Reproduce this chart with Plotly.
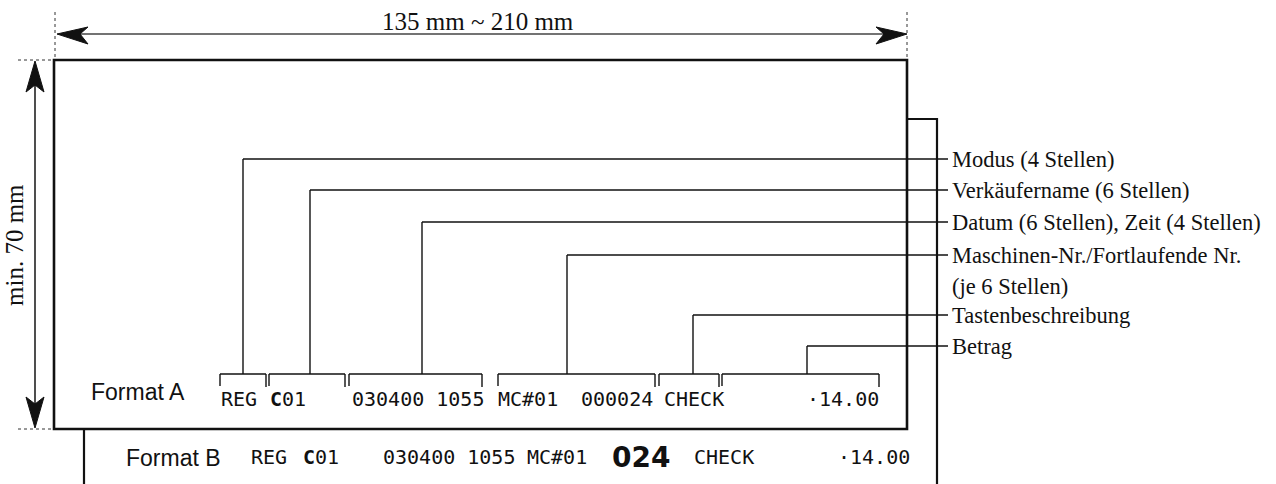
import plotly.graph_objects as go

W, H = 1276, 484

# Field descriptions on the right, with the y of their leader line
FIELD_LABELS = ["Modus (4 Stellen)", "Verkäufername (6 Stellen)",
                "Datum (6 Stellen), Zeit (4 Stellen)", "Maschinen-Nr./Fortlaufende Nr.",
                "Tastenbeschreibung", "Betrag"]
LABEL_Y = [159, 190, 222, 255, 315, 346]
LEADER_X = [243, 310, 422, 567, 693, 807]
EXTRA_LABEL = "(je 6 Stellen)"
EXTRA_Y = 286

# Brackets over the Format A receipt line
BRACKET_LEFT = [220, 269, 349, 498, 659, 722]
BRACKET_RIGHT = [266, 345, 482, 655, 719, 879]

# Receipt line texts (left x of each piece)
FORMAT_A_TEXT = ["REG", "<b>C</b>01", "030400 1055", "MC#01", "000024", "CHECK"]
FORMAT_A_X = [219, 268, 350, 496, 579, 662]
FORMAT_A_AMOUNT = ("·14.00", 881)

FORMAT_B_TEXT = ["REG", "<b>C</b>01", "030400 1055", "MC#01", "CHECK"]
FORMAT_B_X = [249, 301, 381, 525, 692]
FORMAT_B_BIG = ("024", 610)
FORMAT_B_AMOUNT = ("·14.00", 912)

DIM_WIDTH = "135 mm ~ 210 mm"
DIM_HEIGHT = "min. 70 mm"

INK = "#111111"
SERIF = "Liberation Serif, Times New Roman, serif"
SANS = "Liberation Sans, Arial, sans-serif"
DOT = "DejaVu Sans Mono, Liberation Mono, monospace"

shapes = []


def line(x0, y0, x1, y1, w=1.5, color=INK, dash="solid"):
    shapes.append(dict(type="line", x0=x0, y0=y0, x1=x1, y1=y1,
                       line=dict(color=color, width=w, dash=dash), layer="above"))


def path(d, color=INK):
    shapes.append(dict(type="path", path=d, fillcolor=color,
                       line=dict(color=color, width=1), layer="above"))


# paper of Format B (behind) and Format A (front)
shapes.append(dict(type="rect", x0=84, y0=119, x1=937, y1=H + 20,
                   fillcolor="white", line=dict(color=INK, width=2.2)))
shapes.append(dict(type="rect", x0=54, y0=60, x1=907, y1=429,
                   fillcolor="white", line=dict(color=INK, width=2.6)))

# dimension guides
line(55, 12, 55, 60, 1, "#333", "dot")
line(907, 12, 907, 60, 1, "#333", "dot")
line(18, 60, 54, 60, 1, "#333", "dot")
line(18, 429, 54, 429, 1, "#333", "dot")
line(62, 34, 900, 34, 1.6, "#444")
line(35, 66, 35, 423, 1.6, "#222")
path("M 57 34 L 88 27 L 80 34 L 88 44 Z")
path("M 907 34 L 876 27 L 884 34 L 876 44 Z")
path("M 35 61 L 26 92 L 35 85 L 44 92 Z")
path("M 35 428 L 26 397 L 35 404 L 44 397 Z")

# leader lines
for lx, ly in zip(LEADER_X, LABEL_Y):
    line(lx, ly, 948, ly, 1.4)
    line(lx, ly, lx, 374, 1.4)

# brackets
for bl, br in zip(BRACKET_LEFT, BRACKET_RIGHT):
    line(bl, 374, br, 374, 1.4)
    line(bl, 374, bl, 386, 1.4)
    line(br, 374, br, 387, 1.4)

annotations = []


def text(s, x, y, size, family, anchor="left", color=INK, bold=False, angle=0):
    annotations.append(dict(x=x, y=y, text=s, showarrow=False, xanchor=anchor,
                            yanchor="middle", textangle=angle,
                            font=dict(size=size, family=family, color=color,
                                      weight="bold" if bold else "normal")))


for s, ly in zip(FIELD_LABELS, LABEL_Y):
    text(s, 950, ly, 22.5, SERIF)
text(EXTRA_LABEL, 950, EXTRA_Y, 22.5, SERIF)

text(DIM_WIDTH, 478, 21, 25, SERIF, anchor="center")
text(DIM_HEIGHT, 14, 245, 25, SERIF, anchor="center", angle=-90)

text("Format A", 89, 392, 23, SANS)
text("Format B", 124, 458, 23, SANS)

for s, x in zip(FORMAT_A_TEXT, FORMAT_A_X):
    text(s, x, 399, 20, DOT)
text(FORMAT_A_AMOUNT[0], FORMAT_A_AMOUNT[1], 399, 20, DOT, anchor="right")

for s, x in zip(FORMAT_B_TEXT, FORMAT_B_X):
    text(s, x, 457, 20, DOT)
text(FORMAT_B_BIG[0], FORMAT_B_BIG[1], 457, 28, "DejaVu Sans, sans-serif", bold=True)
text(FORMAT_B_AMOUNT[0], FORMAT_B_AMOUNT[1], 457, 20, DOT, anchor="right")

fig = go.Figure()
fig.update_layout(
    width=W, height=H,
    margin=dict(l=0, r=0, t=0, b=0),
    paper_bgcolor="white", plot_bgcolor="white",
    xaxis=dict(range=[0, W], visible=False, fixedrange=True),
    yaxis=dict(range=[H, 0], visible=False, fixedrange=True),
    shapes=shapes, annotations=annotations, showlegend=False,
)

fig.write_html("out.html", config={"displayModeBar": False},
               post_script="document.body.style.margin='0';document.body.style.overflow='hidden';")
